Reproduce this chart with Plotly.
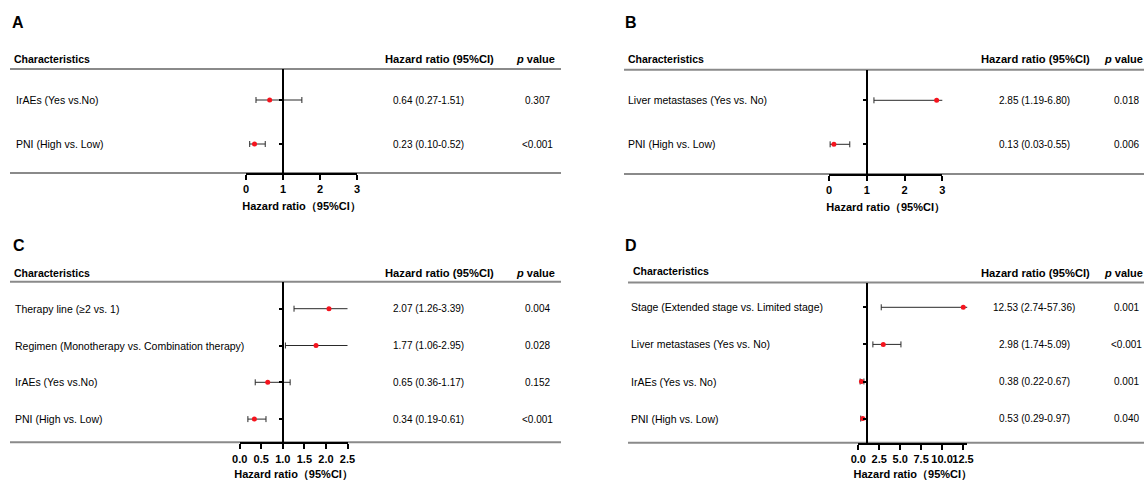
import plotly.graph_objects as go

# ---- data: Cox regression results per panel ----
a_labels = ["IrAEs (Yes vs.No)", "PNI (High vs. Low)"]
a_hr = [0.64, 0.23]
a_lo = [0.27, 0.10]
a_hi = [1.51, 0.52]
a_p = ["0.307", "<0.001"]

b_labels = ["Liver metastases (Yes vs. No)", "PNI (High vs. Low)"]
b_hr = [2.85, 0.13]
b_lo = [1.19, 0.03]
b_hi = [6.80, 0.55]
b_p = ["0.018", "0.006"]

c_labels = ["Therapy line (≥2 vs. 1)",
            "Regimen (Monotherapy vs. Combination therapy)",
            "IrAEs (Yes vs.No)",
            "PNI (High vs. Low)"]
c_hr = [2.07, 1.77, 0.65, 0.34]
c_lo = [1.26, 1.06, 0.36, 0.19]
c_hi = [3.39, 2.95, 1.17, 0.61]
c_p = ["0.004", "0.028", "0.152", "<0.001"]

d_labels = ["Stage (Extended stage vs. Limited stage)",
            "Liver metastases (Yes vs. No)",
            "IrAEs (Yes vs. No)",
            "PNI (High vs. Low)"]
d_hr = [12.53, 2.98, 0.38, 0.53]
d_lo = [2.74, 1.74, 0.22, 0.29]
d_hi = [57.36, 5.09, 0.67, 0.97]
d_p = ["0.001", "<0.001", "0.001", "0.040"]

panel_letters = ["A", "B", "C", "D"]
axis_max = [3, 3, 2.5, 13]
axis_dtick = [1, 1, 0.5, 2.5]
axis_fmt = ["d", "d", ".1f", ".1f"]

# ---- page geometry (pixels) ----
W, H = 1144, 481
FONT = "Liberation Sans, Arial, sans-serif"

geom = [
    dict(letter=(10, 22.5), char=(12, 59.3), hrh=(439, 59.3), ph=(535, 59.3),
         val_x=428, p_x=537, lab_x=14, line=(10, 561),
         top=69, bottom=173, first=100, sp=44, ax=(246, 357)),
    dict(letter=(623, 22), char=(626, 59.3), hrh=(1035.5, 59.3), ph=(1123, 59.3),
         val_x=1034, p_x=1126, lab_x=626, line=(624, 1144),
         top=69.7, bottom=174, first=100.3, sp=44, ax=(829, 942.3)),
    dict(letter=(11, 245), char=(12, 272.7), hrh=(439, 272.7), ph=(535, 272.7),
         val_x=428, p_x=537, lab_x=13, line=(10, 561),
         top=281.7, bottom=442.3, first=308.7, sp=36.8, ax=(239.7, 347.5)),
    dict(letter=(623, 245), char=(631, 271), hrh=(1035.5, 272.7), ph=(1123, 272.7),
         val_x=1034, p_x=1126, lab_x=629.3, line=(628, 1144),
         top=282.5, bottom=442.7, first=307.3, sp=37.1, ax=(858.3, 967.2)),
]


def px_x(px):
    return px / W


def px_y(py):
    return 1 - py / H


panels = [
    (a_labels, a_hr, a_lo, a_hi, a_p),
    (b_labels, b_hr, b_lo, b_hi, b_p),
    (c_labels, c_hr, c_lo, c_hi, c_p),
    (d_labels, d_hr, d_lo, d_hi, d_p),
]

fig = go.Figure()
annotations = []
shapes = []
layout_axes = {}

RED = "#f5141e"
GRAY = "#8a8a8a"

for k, (labels, hr, lo, hi, pv) in enumerate(panels):
    g = geom[k]
    n = len(labels)
    idx = "" if k == 0 else str(k + 1)
    xa, ya = "x" + idx, "y" + idx
    yvals = [n - i for i in range(n)]

    # y range so that rows land on the table row positions
    y_bot = n - (g["bottom"] - g["first"]) / g["sp"]
    y_top = n - (g["top"] - g["first"]) / g["sp"]
    xdom = [px_x(g["ax"][0]), px_x(g["ax"][1])]
    ydom = [px_y(g["bottom"]), px_y(g["top"])]
    xmax = axis_max[k]
    # reference line HR = 1 carried by the y axis itself
    ypos = xdom[0] + 1 / xmax * (xdom[1] - xdom[0])

    fig.add_trace(go.Scatter(
        x=hr, y=yvals, xaxis=xa, yaxis=ya, mode="markers",
        marker=dict(color=RED, size=5),
        error_x=dict(type="data", symmetric=False,
                     array=[h - m for h, m in zip(hi, hr)],
                     arrayminus=[m - l for m, l in zip(hr, lo)],
                     color="#2a2a2a", thickness=1, width=3),
        showlegend=False, hoverinfo="skip",
    ))

    layout_axes["xaxis" + idx] = dict(
        domain=xdom, range=[0, xmax], anchor=ya, automargin=False,
        showline=True, linecolor="black", linewidth=2,
        ticks="outside", ticklen=5, tickwidth=2, tickcolor="black",
        dtick=axis_dtick[k], tick0=0, tickformat=axis_fmt[k], tickangle=0,
        tickfont=dict(family=FONT, size=11, color="black", weight="bold"),
        showgrid=False, zeroline=False,
        title=dict(text="Hazard ratio（95%CI）", standoff=8,
                   font=dict(family=FONT, size=11, color="black", weight="bold")),
    )
    layout_axes["yaxis" + idx] = dict(
        domain=ydom, range=[y_bot, y_top], anchor="free", position=ypos,
        automargin=False,
        showline=True, linecolor="black", linewidth=2,
        ticks="outside", ticklen=3, tickwidth=2, tickcolor="black",
        tickvals=yvals, showticklabels=False,
        showgrid=False, zeroline=False,
    )

    # table rules: header rule and bottom rule
    for yy in (g["top"], g["bottom"]):
        shapes.append(dict(type="line", xref="paper", yref="paper",
                           x0=px_x(g["line"][0]), x1=px_x(g["line"][1]),
                           y0=px_y(yy), y1=px_y(yy),
                           line=dict(color=GRAY, width=2), layer="below"))

    # panel letter
    annotations.append(dict(text="<b>%s</b>" % panel_letters[k], xref="paper", yref="paper",
                            x=px_x(g["letter"][0]), y=px_y(g["letter"][1]),
                            xanchor="left", yanchor="middle", showarrow=False,
                            font=dict(family=FONT, size=16, color="black")))
    # headers
    hdr_font = dict(family=FONT, size=10.5, color="black", weight="bold")
    annotations.append(dict(text="Characteristics", xref="paper", yref="paper",
                            x=px_x(g["char"][0]), y=px_y(g["char"][1]),
                            xanchor="left", yanchor="middle", showarrow=False, font=hdr_font))
    annotations.append(dict(text="Hazard ratio (95%CI)", xref="paper", yref="paper",
                            x=px_x(g["hrh"][0]), y=px_y(g["hrh"][1]),
                            xanchor="center", yanchor="middle", showarrow=False,
                            font=dict(family=FONT, size=11.2, color="black", weight="bold")))
    annotations.append(dict(text="<i>p</i> value", xref="paper", yref="paper",
                            x=px_x(g["ph"][0]), y=px_y(g["ph"][1]),
                            xanchor="center", yanchor="middle", showarrow=False,
                            font=dict(family=FONT, size=11, color="black", weight="bold")))

    body_font = dict(family=FONT, size=10.5, color="black")
    for i in range(n):
        ry = px_y(g["first"] + i * g["sp"])
        annotations.append(dict(text=labels[i], xref="paper", yref="paper",
                                x=px_x(g["lab_x"]), y=ry, xanchor="left", yanchor="middle",
                                showarrow=False, font=body_font))
        annotations.append(dict(text="%.2f (%.2f-%.2f)" % (hr[i], lo[i], hi[i]),
                                xref="paper", yref="paper",
                                x=px_x(g["val_x"]), y=ry, xanchor="center", yanchor="middle",
                                showarrow=False, font=dict(family=FONT, size=10, color="black")))
        annotations.append(dict(text=pv[i], xref="paper", yref="paper",
                                x=px_x(g["p_x"]), y=ry, xanchor="center", yanchor="middle",
                                showarrow=False, font=dict(family=FONT, size=10, color="black")))

fig.update_layout(
    width=W, height=H,
    margin=dict(l=0, r=0, t=0, b=0, autoexpand=False),
    paper_bgcolor="white", plot_bgcolor="rgba(0,0,0,0)",
    annotations=annotations, shapes=shapes,
    **layout_axes,
)

fig.write_html(
    "out.html",
    config={"responsive": False},
    post_script="document.body.style.margin='0';document.body.style.overflow='hidden';",
)
